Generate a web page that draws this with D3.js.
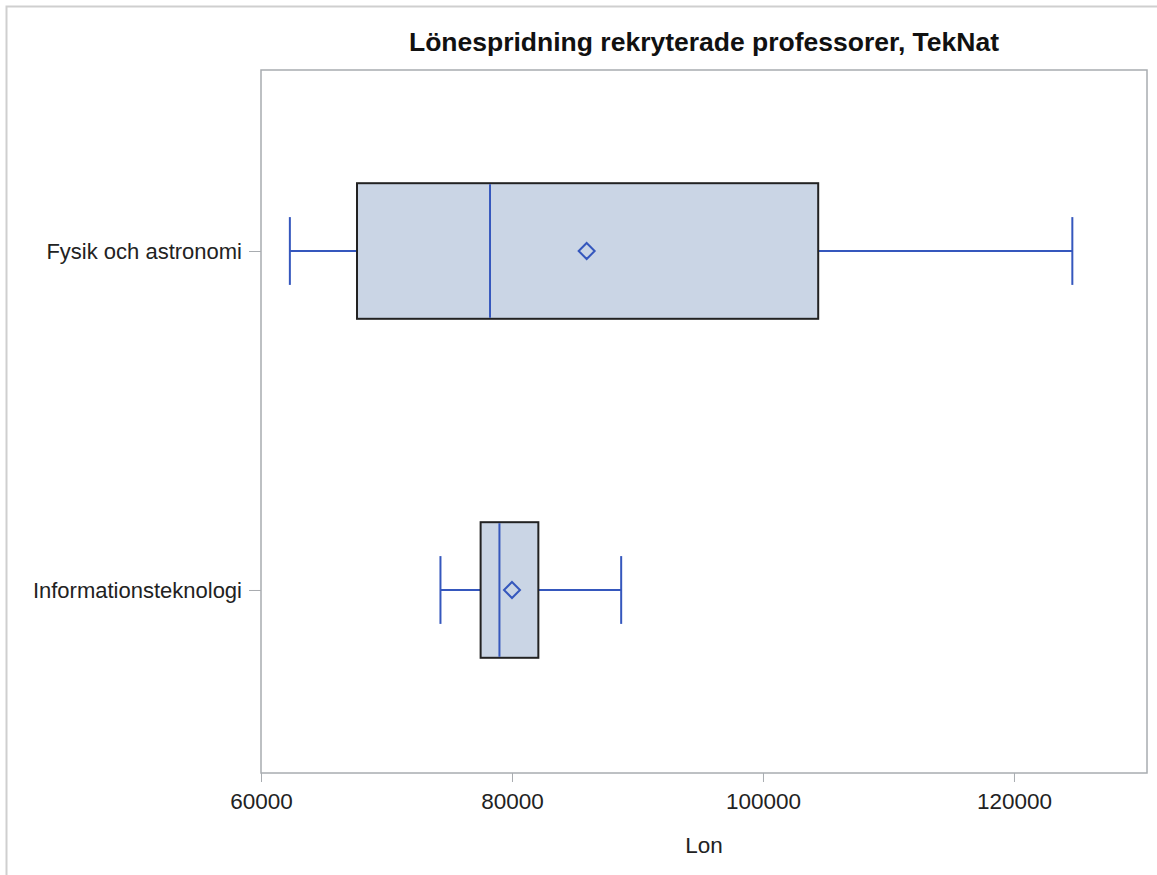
<!DOCTYPE html>
<html>
<head>
<meta charset="utf-8">
<script src="https://cdn.jsdelivr.net/npm/d3@7"></script>
<style>
  html, body { margin: 0; padding: 0; background: #fff; }
  svg { display: block; }
</style>
</head>
<body>
<script>
const categories = ["Fysik och astronomi", "Informationsteknologi"];
const whiskerLow  = [62300, 74300];
const q1          = [67650, 77500];
const median      = [78250, 79000];
const mean        = [85950, 80000];
const q3          = [104400, 82100];
const whiskerHigh = [124650, 88700];
const xTicks = [60000, 80000, 100000, 120000];
const title = "Lönespridning rekryterade professorer, TekNat";
const xLabel = "Lon";

(function () {
const W = 1157, H = 875;
const pLeft = 261, pRight = 1147, pTop = 70, pBottom = 773;
const font = "Liberation Sans, Arial, sans-serif";

const svg = d3.select("body").append("svg").attr("width", W).attr("height", H);

// outer page frame
svg.append("path").attr("d", `M6.5,${H} V6.5 H${W}`).attr("fill", "none")
  .attr("stroke", "#cfcfcf").attr("stroke-width", 2);

const x = d3.scaleLinear().domain([60000, 130600]).range([pLeft, pRight]);
const y = d3.scalePoint().domain(categories).range([71, 770]).padding(0.531);
const step = y.step();
const boxH = step * 0.4;
const capH = boxH * 0.5;

// plot frame
svg.append("rect").attr("x", pLeft).attr("y", pTop).attr("width", pRight - pLeft).attr("height", pBottom - pTop)
  .attr("fill", "none").attr("stroke", "#a8acb0").attr("stroke-width", 1.5);

const blue = "#3557bd";

const data = categories.map((c, i) => ({
  c, lo: whiskerLow[i], q1: q1[i], med: median[i], mean: mean[i], q3: q3[i], hi: whiskerHigh[i]
}));

const g = svg.append("g");
data.forEach(d => {
  const cy = y(d.c);
  g.append("line").attr("x1", x(d.lo)).attr("x2", x(d.q1)).attr("y1", cy).attr("y2", cy)
    .attr("stroke", blue).attr("stroke-width", 2);
  g.append("line").attr("x1", x(d.q3)).attr("x2", x(d.hi)).attr("y1", cy).attr("y2", cy)
    .attr("stroke", blue).attr("stroke-width", 2);
  [d.lo, d.hi].forEach(v => {
    g.append("line").attr("x1", x(v)).attr("x2", x(v)).attr("y1", cy - capH / 2).attr("y2", cy + capH / 2)
      .attr("stroke", blue).attr("stroke-width", 2);
  });
  g.append("rect").attr("x", x(d.q1)).attr("y", cy - boxH / 2).attr("width", x(d.q3) - x(d.q1)).attr("height", boxH)
    .attr("fill", "#cad5e5").attr("stroke", "#222").attr("stroke-width", 2);
  g.append("line").attr("x1", x(d.med)).attr("x2", x(d.med)).attr("y1", cy - boxH / 2 + 1).attr("y2", cy + boxH / 2 - 1)
    .attr("stroke", blue).attr("stroke-width", 2);
  const mx = x(d.mean), r = 8;
  g.append("path").attr("d", `M${mx},${cy - r} L${mx + r},${cy} L${mx},${cy + r} L${mx - r},${cy} Z`)
    .attr("fill", "none").attr("stroke", blue).attr("stroke-width", 2);
});

const xAxis = svg.append("g").attr("transform", `translate(0,${pBottom})`)
  .call(d3.axisBottom(x).tickValues(xTicks).tickFormat(d3.format("d")).tickSize(9).tickPadding(11));
xAxis.select(".domain").remove();
xAxis.selectAll(".tick line").attr("stroke", "#a8acb0");
xAxis.selectAll(".tick text").attr("fill", "#222").attr("font-family", font)
  .attr("font-size", 22.5);

const yAxis = svg.append("g").attr("transform", `translate(${pLeft},0)`)
  .call(d3.axisLeft(y).tickSize(12).tickPadding(7));
yAxis.select(".domain").remove();
yAxis.selectAll(".tick line").attr("stroke", "#a8acb0");
yAxis.selectAll(".tick text").attr("fill", "#222").attr("font-family", font)
  .attr("font-size", 22);

svg.append("text").attr("x", (pLeft + pRight) / 2).attr("y", 51).attr("text-anchor", "middle")
  .attr("font-family", font).attr("font-weight", "bold").attr("font-size", 26.5)
  .attr("fill", "#111").text(title);

svg.append("text").attr("x", (pLeft + pRight) / 2).attr("y", 853).attr("text-anchor", "middle")
  .attr("font-family", font).attr("font-size", 22.5)
  .attr("fill", "#222").text(xLabel);
})();
</script>
</body>
</html>
